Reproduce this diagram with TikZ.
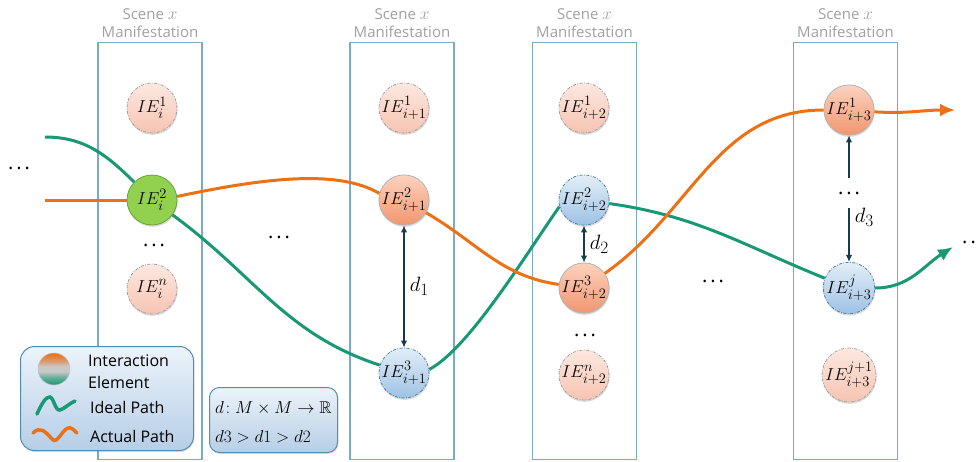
\documentclass[tikz,border=0pt]{standalone}
\usepackage{amssymb}
\usepackage{fontspec}
\setmainfont{Open Sans}
\usetikzlibrary{arrows.meta,shadows}
\DeclareMathSizes{19}{19}{15}{11}
\DeclareMathSizes{21}{21}{16}{12}
\definecolor{orangeP}{RGB}{236,112,20}
\definecolor{greenP}{RGB}{24,152,116}
\definecolor{boxC}{RGB}{120,172,192}
\definecolor{titleC}{RGB}{160,160,160}
\definecolor{darrowC}{RGB}{22,58,78}
\definecolor{pinkT}{RGB}{253,232,224}
\definecolor{pinkB}{RGB}{247,196,178}
\definecolor{orT}{RGB}{252,210,190}
\definecolor{orB}{RGB}{242,150,112}
\definecolor{blT}{RGB}{226,238,248}
\definecolor{blB}{RGB}{158,194,228}
\definecolor{blBd}{RGB}{70,130,172}
\definecolor{grF}{RGB}{146,208,80}
\definecolor{grBd}{RGB}{104,164,60}
\definecolor{legT}{RGB}{236,243,250}
\definecolor{legB}{RGB}{182,206,230}
\definecolor{legBd}{RGB}{84,140,172}
\definecolor{midG}{RGB}{200,200,200}
\pgfdeclareverticalshading{legsh}{100bp}{color(0bp)=(greenP); color(25bp)=(greenP); color(37bp)=(greenP!55!midG); color(46bp)=(midG); color(54bp)=(midG); color(63bp)=(orangeP!55!midG); color(75bp)=(orangeP); color(100bp)=(orangeP)}
\newcommand{\mydots}{.\kern3pt.\kern3pt.}
\tikzset{
  ie/.style={circle, minimum size=50pt, inner sep=0pt, font=\fontsize{19}{21}\selectfont, line width=0.8pt,
    drop shadow={shadow xshift=0.6pt, shadow yshift=-1.8pt, opacity=0.3}},
  dd/.style={dash pattern=on 3pt off 1.5pt on 0.8pt off 1.5pt},
  pinkie/.style={ie, dd, draw=gray!75, top color=pinkT, bottom color=pinkB},
  orie/.style={ie, draw=gray!60, top color=orT, bottom color=orB},
  blie/.style={ie, dd, draw=blBd, top color=blT, bottom color=blB},
  grie/.style={ie, draw=grBd, fill=grF},
  colbox/.style={draw=boxC, line width=1.1pt, minimum width=104pt, minimum height=417pt, inner sep=0pt, anchor=north},
  ttl/.style={text=titleC, align=center, font=\fontsize{15}{18}\selectfont},
  opath/.style={draw=orangeP, line width=3pt},
  gpath/.style={draw=greenP, line width=3pt},
  dline/.style={draw=darrowC, line width=1.2pt},
  darr/.style={dline, {Latex[length=7pt,width=6.5pt]}-{Latex[length=7pt,width=6.5pt]}},
  darrend/.style={dline, -{Latex[length=7pt,width=6.5pt]}},
  dlab/.style={font=\fontsize{21}{22}\selectfont, text=black},
  dotn/.style={font=\fontsize{20}{20}\selectfont, inner sep=0pt},
  legbox/.style={rounded corners=14pt, draw=legBd, line width=1pt, top color=legT, bottom color=legB,
    drop shadow={shadow xshift=0.8pt, shadow yshift=-1.5pt, opacity=0.25}},
  legtxt/.style={anchor=west, font=\fontsize{16}{18}\selectfont, inner sep=0pt},
}
\begin{document}
\begin{tikzpicture}[x=1pt,y=-1pt]
\useasboundingbox (0,0) rectangle (976,461);
% column boxes and titles
\node[colbox] (c1) at (150,42) {};
\node[colbox] (c2) at (402,42) {};
\node[colbox] (c3) at (584.5,42) {};
\node[colbox] (c4) at (845.5,42) {};
\node[ttl] (t1) at (150,23) {Scene {\fontsize{18}{18}\selectfont$x$}\\Manifestation};
\node[ttl] (t2) at (402,23) {Scene {\fontsize{18}{18}\selectfont$x$}\\Manifestation};
\node[ttl] (t3) at (584.5,23) {Scene {\fontsize{18}{18}\selectfont$x$}\\Manifestation};
\node[ttl] (t4) at (845.5,23) {Scene {\fontsize{18}{18}\selectfont$x$}\\Manifestation};
% column 1
\node[pinkie] (a1) at (152,108) {$IE_{i}^{1}$};
\node[grie] (g1) at (152,200) {$IE_{i}^{2}$};
\node[dotn] (ad) at (154,245) {\mydots};
\node[pinkie] (an) at (152,289) {$IE_{i}^{n}$};
% column 2
\node[pinkie] (b1) at (404,108) {$IE_{i+1}^{1}$};
\node[orie] (o2) at (404,200) {$IE_{i+1}^{2}$};
\node[blie] (b3) at (404,373) {$IE_{i+1}^{3}$};
% column 3
\node[pinkie] (c31) at (584,108) {$IE_{i+2}^{1}$};
\node[blie] (b2) at (584,200) {$IE_{i+2}^{2}$};
\node[orie] (o3) at (584,288) {$IE_{i+2}^{3}$};
\node[dotn] (cd) at (585,335) {\mydots};
\node[pinkie] (cn) at (584,375) {$IE_{i+2}^{n}$};
% column 4
\node[orie] (o4) at (849,110) {$IE_{i+3}^{1}$};
\node[dotn, inner ysep=13pt] (v4) at (849,193) {\mydots};
\node[blie] (bj) at (849,288) {$IE_{i+3}^{j}$};
\node[pinkie] (dj1) at (849,375) {$IE_{i+3}^{j+1}$};
% free dots
\node[dotn] (l0) at (19,168) {\mydots};
\node[dotn] (l1) at (279,237) {\mydots};
\node[dotn] (l2) at (713,281) {\mydots};
\node[dotn, anchor=west] (l3) at (962,242) {\mydots};
% distance arrows
\draw[darr] (o2) -- (b3) node[dlab, midway, right=2pt] {$d_1$};
\draw[darr] (b2) -- (o3) node[dlab, midway, right=2pt] {$d_2$};
\draw[darrend] (v4) -- (o4);
\draw[darrend] (v4) -- (bj) node[dlab, pos=0.18, right=2pt] {$d_3$};
% paths
\coordinate (gs) at (45,137);
\coordinate (os) at (45,200);
\coordinate (gt) at (953,247);
\coordinate (ot) at (955,110);
\draw[gpath] (gs) to[out=0,in=135] (g1);
\draw[gpath] (g1) to[out=-36,in=162] (b3);
\draw[gpath] (b3.8) .. controls +(-28:45) and +(125:60) .. (b2.195);
\draw[gpath] (b2) to[out=-8,in=158] (bj);
\draw[gpath, -{Latex[length=15pt,width=13pt]}] (bj) to[out=0,in=212] (gt);
\draw[opath] (os) -- (g1);
\draw[opath] (g1.8) .. controls +(-12:100) and +(-150:45) .. (o2.165);
\draw[opath] (o2) to[out=-30,in=172] (o3);
\draw[opath] (o3) to[out=35,in=180] (o4);
\draw[opath, -{Latex[length=15pt,width=13pt]}] (o4) to[out=-4,in=180] (ot);
% legend
\node[legbox, minimum width=173pt, minimum height=104pt, anchor=north west] (leg) at (20,346) {};
\node[circle, minimum size=32pt, inner sep=0pt, draw=gray!50, line width=0.5pt, shade, shading=legsh] (lc) at (54,369) {};
\node[legtxt] (lt1) at (88,361) {Interaction};
\node[legtxt] (lt2) at (88,382) {Element};
\node[legtxt] (lt3) at (90,407) {Ideal Path};
\node[legtxt] (lt4) at (90,436) {Actual Path};
\draw[greenP, line width=3.5pt, line cap=round] (37,414) .. controls (41,405) and (46,396) .. (50,397) .. controls (54,398) and (55,411) .. (60,410) .. controls (64,409) and (70,403) .. (75,401);
\draw[orangeP, line width=3.5pt, line cap=round] (33,433) .. controls (40,426) and (45,431) .. (52,439) .. controls (57,445) and (62,430) .. (68,428) .. controls (71,427) and (74,430) .. (77,433);
% math box
\node[legbox, rounded corners=10pt, minimum width=128pt, minimum height=65pt, anchor=north west] (mb) at (209,387) {};
\node[anchor=west, inner sep=0pt, font=\fontsize{17}{20}\selectfont] (m1) at (215,408) {$d\!: M \times M \rightarrow \mathbb{R}$};
\node[anchor=west, inner sep=0pt, font=\fontsize{17}{20}\selectfont] (m2) at (215,437) {$d3 > d1 > d2$};
\end{tikzpicture}
\end{document}
